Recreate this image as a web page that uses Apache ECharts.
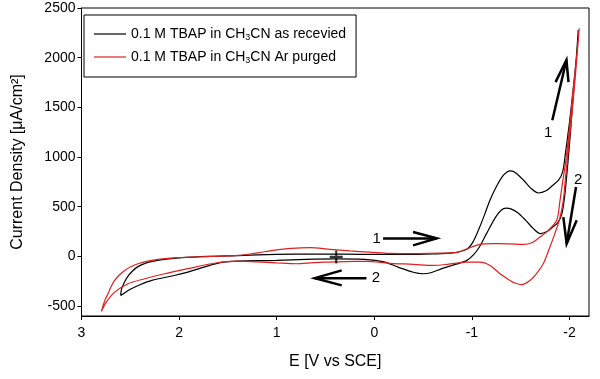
<!DOCTYPE html>
<html>
<head>
<meta charset="utf-8">
<script src="https://cdn.jsdelivr.net/npm/echarts@6/dist/echarts.min.js"></script>
<style>
  html, body { margin: 0; padding: 0; background: #fff; }
  #chart { width: 600px; height: 379px; }
</style>
</head>
<body>
<div id="chart"></div>
<script>
// cyclic voltammograms, each one closed loop: potential (V vs SCE) / current density (uA/cm2)
const blackE = [2.598, 2.59, 2.56, 2.53, 2.48, 2.43, 2.35, 2.26, 2.13, 2.0, 1.7, 1.4, 1.0, 0.6, 0.3, 0.0, -0.3, -0.6, -0.8, -0.95,
  -1.01, -1.08, -1.13, -1.185, -1.25, -1.31, -1.36, -1.40, -1.45, -1.53, -1.60, -1.68, -1.76, -1.83, -1.89, -1.93, -1.96, -2.0, -2.04, -2.07, -2.09,
  -2.07, -2.04, -2.01, -1.98, -1.95, -1.92, -1.88, -1.83, -1.77, -1.70, -1.63, -1.55, -1.47, -1.40, -1.35, -1.30, -1.24, -1.15, -1.08, -1.02,
  -0.95, -0.85, -0.70, -0.58, -0.50, -0.40, -0.25, -0.10, 0.10, 0.40, 0.70, 1.00, 1.40, 1.55, 1.67, 1.80, 1.91, 2.05, 2.28, 2.40, 2.49, 2.598]
const blackI = [-393, -330, -260, -208, -150, -108, -70, -47, -28, -15, 0, 8, 20, 24, 22, 20, 20, 25, 35, 75,
  144, 295, 420, 564, 700, 800, 850, 860, 840, 766, 690, 638, 660, 716, 770, 850, 1050, 1350, 1700, 2000, 2278,
  2000, 1650, 1250, 900, 600, 420, 340, 296, 250, 229, 279, 365, 440, 478, 485, 465, 390, 229, 100, 20,
  -40, -75, -120, -165, -175, -160, -110, -55, -30, -25, -30, -40, -47, -57, -85, -125, -158, -192, -242, -285, -326, -393]

const redE = [2.797, 2.76, 2.728, 2.70, 2.66, 2.61, 2.557, 2.49, 2.421, 2.32, 2.216, 2.011, 1.67, 1.397, 1.2, 1.035, 0.85, 0.66, 0.454, 0.25,
  0.046, -0.16, -0.45, -0.7, -0.85, -0.91, -1.0, -1.083, -1.2, -1.288, -1.4, -1.527, -1.62, -1.698, -1.78, -1.869, -1.903, -1.93, -1.954, -1.99, -2.03, -2.07, -2.10,
  -2.08, -2.05, -2.02, -1.988, -1.96, -1.937, -1.90, -1.851, -1.79, -1.731, -1.66, -1.595, -1.51, -1.44, -1.39, -1.288, -1.186, -1.083,
  -0.95, -0.75, -0.6, -0.4, -0.16, 0.08, 0.3, 0.454, 0.62, 0.795, 1.0, 1.2, 1.397, 1.52, 1.67, 1.909, 2.148, 2.352, 2.524, 2.66, 2.746, 2.797]
const redI = [-554, -440, -376, -310, -242, -185, -141, -102, -74, -48, -30, -13, 0, 10, 35, 60, 80, 88, 71, 55,
  43, 30, 28, 32, 40, 60, 95, 121, 128, 128, 125, 121, 140, 195, 260, 363, 564, 750, 900, 1200, 1600, 1980, 2295,
  2050, 1700, 1380, 1068, 800, 564, 380, 232, 70, -74, -175, -242, -285, -268, -242, -175, -91, -57,
  -57, -80, -91, -80, -70, -50, -52, -57, -62, -74, -65, -55, -47, -52, -74, -124, -175, -225, -275, -360, -460, -554]

const seriesNames = ['0.1 M TBAP in CH3CN as recevied', '0.1 M TBAP in CH3CN Ar purged']
const xTicks = [3, 2, 1, 0, -1, -2]
const yTicks = [-500, 0, 500, 1000, 1500, 2000, 2500]
const startPoint = [[0.39, -5]]

// scan direction arrows (data units): shaft tail -> tip, then head wings
const arrowShafts = [
  [[-0.09, 181], [-0.64, 181]],
  [[0.08, -219], [0.61, -219]],
  [[-1.824, 1371], [-1.969, 1976]],
  [[-2.067, 699], [-1.971, 128]]
]
const arrowHeads = [
  [[-0.397, 245], [-0.64, 181], [-0.397, 111]],
  [[0.334, -141], [0.61, -219], [0.334, -292]],
  [[-1.857, 1754], [-1.969, 1976], [-1.990, 1754]],
  [[-1.937, 396], [-1.971, 128], [-2.074, 363]]
]
const arrowLabels = [['1', -0.025, 181], ['2', -0.017, -219], ['1', -1.781, 1240], ['2', -2.09, 766]]

const zip = (xs, ys) => xs.map((x, i) => [x, ys[i]])
const font = 'Arial, "Liberation Sans", sans-serif'

const chart = echarts.init(document.getElementById('chart'))

chart.setOption({
  animation: false,
  textStyle: { fontFamily: font },
  grid: {
    left: 81.5, right: 11, top: 8, bottom: 63,
    show: true, borderColor: '#000', borderWidth: 1
  },
  legend: {
    orient: 'vertical',
    left: 84, top: 15,
    padding: [12, 10, 12, 10],
    itemGap: 8,
    itemWidth: 32, itemHeight: 15,
    borderColor: '#000', borderWidth: 1,
    icon: 'path://M0,6h32v1.2h-32z',
    textStyle: {
      fontSize: 14, color: '#000',
      rich: {
        t: { fontSize: 14, color: '#000' },
        sub: { fontSize: 9, color: '#000', padding: [7, 0, 0, 0] }
      }
    },
    formatter: name => {
      const parts = name.split('CH3CN')
      return '{t|' + parts[0] + 'CH}{sub|3}{t|CN' + parts[1] + '}'
    },
    data: seriesNames
  },
  xAxis: {
    type: 'value',
    inverse: true,
    min: -2.2, max: 3,
    name: 'E [V vs SCE]',
    nameLocation: 'middle',
    nameGap: 38,
    nameTextStyle: { fontSize: 16, color: '#000' },
    axisLine: { onZero: false, lineStyle: { color: '#000' } },
    axisTick: { inside: false, length: 4, customValues: xTicks, lineStyle: { color: '#000' } },
    axisLabel: { customValues: xTicks, fontSize: 14, color: '#000', margin: 10, formatter: v => String(v) },
    splitLine: { show: false }
  },
  yAxis: {
    type: 'value',
    min: -600, max: 2500,
    name: 'Current Density [μA/cm²]',
    nameLocation: 'middle',
    nameGap: 56,
    nameTextStyle: { fontSize: 16, color: '#000' },
    axisLine: { show: true, onZero: false, lineStyle: { color: '#000' } },
    axisTick: { show: true, length: 4, customValues: yTicks, lineStyle: { color: '#000' } },
    axisLabel: { customValues: yTicks, fontSize: 14, color: '#000', margin: 6, formatter: v => String(v) },
    splitLine: { show: false }
  },
  series: [
    {
      name: seriesNames[0],
      type: 'line',
      data: zip(blackE, blackI),
      showSymbol: false, symbol: 'none',
      smooth: 0.3,
      lineStyle: { color: '#000', width: 1.2 },
      itemStyle: { color: '#000' },
      z: 3
    },
    {
      name: seriesNames[1],
      type: 'line',
      data: zip(redE, redI),
      showSymbol: false, symbol: 'none',
      smooth: 0.3,
      lineStyle: { color: '#e0201e', width: 1.2 },
      itemStyle: { color: '#e0201e' },
      z: 4
    },
    {
      type: 'scatter',
      data: startPoint,
      symbol: 'path://M4.2,0h1.6v4.2h4.2v1.6h-4.2v4.2h-1.6v-4.2h-4.2v-1.6h4.2z',
      symbolSize: 13,
      itemStyle: { color: '#000' },
      z: 5
    }
  ]
})

// arrows and their numbers, placed from data units
const toPx = p => chart.convertToPixel({ gridIndex: 0 }, p)
const graphics = []
arrowShafts.forEach(s => {
  graphics.push({ type: 'polyline', shape: { points: s.map(toPx) }, style: { stroke: '#000', lineWidth: 2.5, fill: null }, z: 10 })
})
arrowHeads.forEach(h => {
  graphics.push({ type: 'polyline', shape: { points: h.map(toPx) }, style: { stroke: '#000', lineWidth: 2.5, fill: null, lineJoin: 'miter' }, z: 10 })
})
arrowLabels.forEach(([t, x, y]) => {
  const p = toPx([x, y])
  graphics.push({ type: 'text', x: p[0], y: p[1], style: { text: t, fontSize: 15, fontFamily: font, fill: '#000', align: 'center', verticalAlign: 'middle' }, z: 10 })
})
chart.setOption({ graphic: graphics })
</script>
</body>
</html>
